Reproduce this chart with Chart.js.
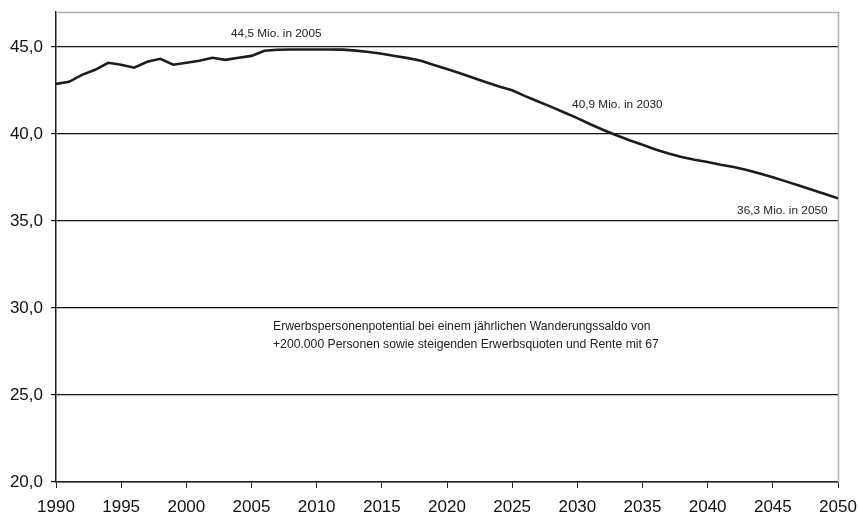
<!DOCTYPE html>
<html>
<head>
<meta charset="utf-8">
<script src="https://cdn.jsdelivr.net/npm/chart.js@4/dist/chart.umd.min.js"></script>
<style>
  html, body { margin: 0; padding: 0; background: #fff; }
  #wrap { width: 859px; height: 515px; }
</style>
</head>
<body>
<div id="wrap"><canvas id="chart" width="859" height="515"></canvas></div>
<script>
const years = [];
for (let y = 1990; y <= 2050; y++) years.push(y);

// Erwerbspersonenpotential in Mio.
const potential = [
  42.87, 42.99, 43.39, 43.68, 44.08, 43.97, 43.80, 44.14, 44.31, 43.97,
  44.08, 44.20, 44.37, 44.25, 44.37, 44.48, 44.77, 44.83, 44.85, 44.85,
  44.85, 44.85, 44.84, 44.78, 44.70, 44.60, 44.47, 44.35, 44.20, 43.95,
  43.72, 43.48, 43.22, 42.96, 42.72, 42.50, 42.17, 41.86, 41.55, 41.23,
  40.90, 40.55, 40.22, 39.92, 39.63, 39.37, 39.10, 38.87, 38.67, 38.51,
  38.38, 38.23, 38.10, 37.92, 37.72, 37.50, 37.27, 37.03, 36.79, 36.55,
  36.30
];

const xTicks = [1990, 1995, 2000, 2005, 2010, 2015, 2020, 2025, 2030, 2035, 2040, 2045, 2050];
const yTicks = [20, 25, 30, 35, 40, 45];

const notes = [
  { text: '44,5 Mio. in 2005', x: 2006.9, y: 45.75, align: 'center' },
  { text: '40,9 Mio. in 2030', x: 2029.6, y: 41.7, align: 'left' },
  { text: '36,3 Mio. in 2050', x: 2049.2, y: 35.6, align: 'right' }
];
const caption = [
  'Erwerbspersonenpotential bei einem jährlichen Wanderungssaldo von',
  '+200.000 Personen sowie steigenden Erwerbsquoten und Rente mit 67'
];

const points = years.map((yr, i) => ({ x: yr, y: potential[i] }));

const frame = {
  id: 'frame',
  beforeDatasetsDraw(chart) {
    const { ctx, chartArea: a } = chart;
    ctx.save();
    ctx.strokeStyle = '#b0b0b0';
    ctx.lineWidth = 1.5;
    ctx.beginPath();
    ctx.moveTo(a.left, a.top + 0.5);
    ctx.lineTo(a.right + 0.5, a.top + 0.5);
    ctx.lineTo(a.right + 0.5, a.bottom);
    ctx.stroke();
    ctx.restore();
  },
  afterDatasetsDraw(chart) {
    const ctx = chart.ctx;
    const xs = chart.scales.x, ys = chart.scales.y;
    ctx.save();
    ctx.fillStyle = '#222';
    ctx.textBaseline = 'middle';
    ctx.font = '11.8px "Liberation Sans", Arial, sans-serif';
    notes.forEach(n => {
      ctx.textAlign = n.align;
      ctx.fillText(n.text, xs.getPixelForValue(n.x), ys.getPixelForValue(n.y));
    });
    ctx.font = '12.2px "Liberation Sans", Arial, sans-serif';
    ctx.textAlign = 'left';
    const cx = xs.getPixelForValue(2006.65);
    ctx.fillText(caption[0], cx, ys.getPixelForValue(28.92));
    ctx.fillText(caption[1], cx, ys.getPixelForValue(27.88));
    ctx.restore();
  }
};

new Chart(document.getElementById('chart'), {
  type: 'line',
  data: {
    datasets: [{
      data: points,
      borderColor: '#1c1c1c',
      borderWidth: 2.6,
      pointRadius: 0,
      tension: 0,
      fill: false
    }]
  },
  options: {
    responsive: false,
    animation: false,
    layout: { padding: { top: 12, right: 21, left: 0, bottom: 0 } },
    plugins: { legend: { display: false }, tooltip: { enabled: false } },
    scales: {
      x: {
        type: 'linear',
        min: 1990,
        max: 2050,
        afterBuildTicks: s => { s.ticks = xTicks.map(v => ({ value: v })); },
        afterFit: s => {
          s.height = 33;
          s.paddingLeft = 0;
          s.paddingRight = 0;
        },
        ticks: {
          color: '#111',
          font: { family: '"Liberation Sans", Arial, sans-serif', size: 17 },
          padding: 9,
          maxRotation: 0,
          callback: v => String(v)
        },
        grid: { drawOnChartArea: false, drawTicks: true, tickLength: 6, color: '#222' },
        border: { color: '#222', width: 1.5 }
      },
      y: {
        min: 20,
        max: 47,
        afterBuildTicks: s => { s.ticks = yTicks.map(v => ({ value: v })); },
        afterFit: s => {
          s.width = 56;
          s.paddingTop = 0;
          s.paddingBottom = 0;
        },
        ticks: {
          color: '#111',
          font: { family: '"Liberation Sans", Arial, sans-serif', size: 17 },
          padding: 8,
          callback: v => v.toFixed(1).replace('.', ',')
        },
        grid: { color: '#111', lineWidth: 1.2, tickLength: 5 },
        border: { color: '#222', width: 1.5 }
      }
    }
  },
  plugins: [frame]
});
</script>
</body>
</html>
